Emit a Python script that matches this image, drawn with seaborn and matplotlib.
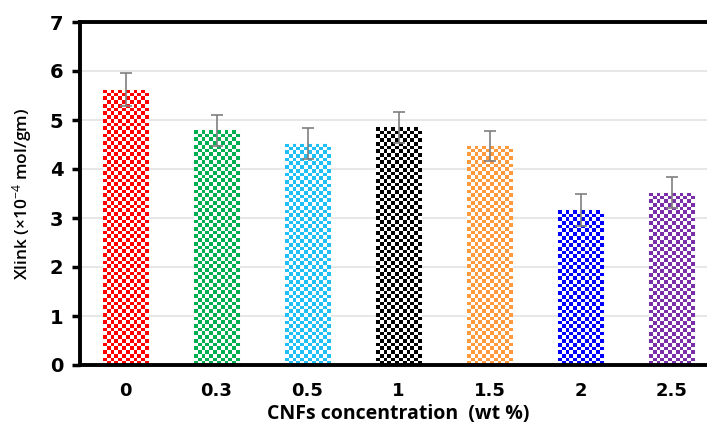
import numpy as np
import pandas as pd
import matplotlib
matplotlib.use("Agg")
import matplotlib.pyplot as plt
import matplotlib.colors as mcolors
import seaborn as sns

# Data
concentrations = ["0", "0.3", "0.5", "1", "1.5", "2", "2.5"]
xlink = [5.62, 4.79, 4.52, 4.85, 4.47, 3.16, 3.52]
errors = [0.33, 0.32, 0.31, 0.32, 0.31, 0.32, 0.31]
bar_colors = ["#FF0000", "#00B050", "#1EC0F5", "#000000", "#FF9A3C", "#0000FF", "#7A2EA8"]

df = pd.DataFrame({"conc": concentrations, "xlink": xlink})

sns.set_style("white")
plt.rcParams["font.family"] = ["DejaVu Sans"]
plt.rcParams["mathtext.fontset"] = "custom"
plt.rcParams["mathtext.rm"] = "Open Sans"
plt.rcParams["mathtext.it"] = "Open Sans:italic"

fig = plt.figure(figsize=(7.07, 4.24), dpi=100)
ax = fig.add_axes([80 / 707, 59 / 424, 637 / 707, 343 / 424])

sns.barplot(data=df, x="conc", y="xlink", hue="conc", palette=bar_colors,
            width=0.5, legend=False, ax=ax, errorbar=None,
            edgecolor="#c8c8c8", linewidth=0.8, zorder=2)

ax.set_ylim(0, 7)
ax.set_xlim(-0.5, 6.5)
fig.canvas.draw()

# checkerboard fill for each bar, clipped to the bar shape
cell = 3.7  # px
for patch, col in zip(ax.patches, bar_colors):
    bb = patch.get_window_extent()
    nx = max(1, int(round(bb.width / cell)))
    ny = max(1, int(round(bb.height / cell)))
    ii, jj = np.indices((ny, nx))
    mask = (ii + jj) % 2 == 0
    rgb = np.array(mcolors.to_rgb(col))
    img = np.ones((ny, nx, 3))
    img[mask] = rgb
    x0, y0 = patch.get_x(), patch.get_y()
    w, h = patch.get_width(), patch.get_height()
    im = ax.imshow(img, extent=(x0, x0 + w, y0, y0 + h), origin="upper",
                   aspect="auto", interpolation="nearest", zorder=2.5)
    im.set_clip_path(patch)

ax.errorbar(x=np.arange(len(concentrations)), y=xlink, yerr=errors, fmt="none",
            ecolor="#7f7f7f", elinewidth=1.2, capsize=4, capthick=1.2, zorder=3)

ax.set_xlim(-0.5, 6.5)
ax.set_ylim(0, 7)
ax.set_yticks(range(0, 8))
ax.yaxis.grid(True, color="#e3e3e3", linewidth=1.2, zorder=0)
ax.set_axisbelow(True)

for side in ["left", "bottom", "top"]:
    ax.spines[side].set_color("black")
    ax.spines[side].set_linewidth(2.8)
ax.spines["right"].set_visible(False)

ax.tick_params(axis="y", direction="out", length=6, width=2.5, left=True,
               labelsize=14, pad=6, colors="black")
ax.tick_params(axis="x", length=0, labelsize=13, pad=12, colors="black")
for lab in ax.get_xticklabels() + ax.get_yticklabels():
    lab.set_fontweight("bold")

ax.set_xlabel("CNFs concentration  (wt %)", fontsize=14, fontweight="bold",
              family="Open Sans", color="black", labelpad=3)
ax.set_ylabel("Xlink (\u00d710$^{-4}$ mol/gm)", fontsize=12.5, fontweight="semibold",
              family="Open Sans", color="black", labelpad=11)

fig.savefig("out.png", dpi=100)
